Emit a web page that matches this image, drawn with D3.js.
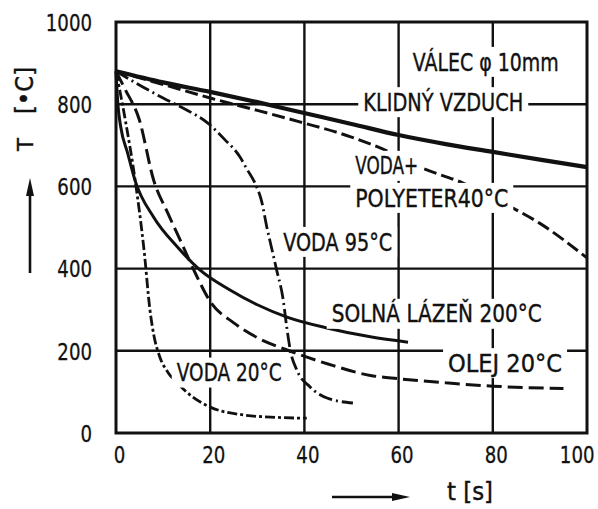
<!DOCTYPE html>
<html>
<head>
<meta charset="utf-8">
<script src="https://cdn.jsdelivr.net/npm/d3@7"></script>
<style>
  html, body { margin: 0; padding: 0; background: #fff; }
  svg { display: block; }
  text { font-family: "DejaVu Sans", "Liberation Sans", sans-serif; fill: #111; }
</style>
</head>
<body>
<svg id="chart" width="598" height="509"></svg>
<script>
// ---- data ----
const xTicks = [0, 20, 40, 60, 80, 100];
const yTicks = [0, 200, 400, 600, 800, 1000];

const airT   = [0, 10, 20, 30, 39, 50, 60, 70, 80, 90, 100];
const airV   = [880, 853, 830, 805, 781, 752, 725, 703, 684, 665, 647];

const polyT  = [0, 10, 20, 30, 39, 50, 58, 64.5, 73.7, 83, 90, 100];
const polyV  = [880, 848, 815, 785, 757, 720, 684, 647, 608, 555, 510, 426];

const w95T   = [0, 5.7, 10, 15, 19.5, 23, 26.3, 27.8, 29.5, 31, 32, 33, 34.1, 35.5, 36.2, 37, 38.4, 41.2, 44.8, 50.3];
const w95V   = [880, 842, 815, 786, 754, 715, 672, 642, 608, 560, 502, 452, 397, 324, 262, 202, 153, 112, 85, 73];

const w20T   = [0, 2, 4, 6, 7.2, 8, 9.3, 11, 13, 16, 20, 27, 34, 40.5];
const w20V   = [880, 760, 620, 440, 300, 240, 185, 148, 122, 90, 63, 44, 38, 36];

const saltT  = [0, 0.4, 1, 2.5, 4, 8, 13, 17.8, 24.2, 30, 36.3, 45, 54, 62];
const saltV  = [880, 800, 745, 680, 616, 525, 453, 397, 348, 312, 282, 255, 234, 221];

const oilT   = [0, 2, 4.9, 8, 11, 14, 17, 20, 25, 30, 36.3, 45, 54, 60, 70, 80, 95];
const oilV   = [880, 835, 764, 615, 535, 460, 385, 320, 268, 232, 202, 168, 140, 132, 122, 114, 108];

const labelTexts = ["VÁLEC φ 10mm", "KLIDNÝ VZDUCH", "VODA+", "POLYETER40°C", "VODA 95°C", "SOLNÁ LÁZEŇ 200°C", "OLEJ 20°C", "VODA 20°C"];
const labelT     = [63.0, 52.5, 50.8, 50.8, 35.5, 45.8, 70.5, 12.9];
const labelV     = [903, 805, 650, 572, 465, 290, 170, 147];

// ---- chart ----
const svg = d3.select("#chart");
const x = d3.scaleLinear().domain([0, 100]).range([116, 587]);
const y = d3.scaleLinear().domain([0, 1000]).range([433, 22]);
const ink = "#111";
const fit = (sel, w) => sel.attr("textLength", w).attr("lengthAdjust", "spacingAndGlyphs");

// grid
const grid = svg.append("g");
grid.selectAll("line.v").data(xTicks.slice(1, -1)).join("line")
  .attr("x1", d => x(d)).attr("x2", d => x(d))
  .attr("y1", y(0)).attr("y2", y(1000))
  .attr("stroke", ink).attr("stroke-width", 2.4);
grid.selectAll("line.h").data(yTicks.slice(1, -1)).join("line")
  .attr("y1", d => y(d)).attr("y2", d => y(d))
  .attr("x1", x(0)).attr("x2", x(100))
  .attr("stroke", ink).attr("stroke-width", 2.4);

// axes (labels only), condensed via horizontal scale
const fs = 23;
const sx = 0.79;
const yAxis = svg.append("g").attr("transform", `translate(${x(0)},0)`)
  .call(d3.axisLeft(y).tickValues(yTicks).tickFormat(d3.format("d")).tickSize(0));
yAxis.select(".domain").remove();
yAxis.selectAll("text").attr("font-size", fs).attr("dy", "0.36em")
  .style("font-family", "'DejaVu Sans', sans-serif")
  .attr("stroke", ink).attr("stroke-width", 0.3)
  .attr("x", -24 / sx)
  .attr("transform", `scale(${sx},1)`);

const xAxis = svg.append("g").attr("transform", `translate(3,${y(0)})`)
  .call(d3.axisBottom(x).tickValues(xTicks).tickFormat(d3.format("d")).tickSize(0).tickPadding(14));
xAxis.select(".domain").remove();
xAxis.selectAll("text").attr("font-size", fs)
  .style("font-family", "'DejaVu Sans', sans-serif")
  .attr("stroke", ink).attr("stroke-width", 0.3)
  .attr("transform", `scale(${sx},1)`)
  .each(function(d) {
    if (d === 100) d3.select(this).attr("text-anchor", "end").attr("x", (594 - 3 - x(100)) / sx);
  });

// curves
const line = d3.line().x(d => x(d[0])).y(d => y(d[1])).curve(d3.curveMonotoneX);
const zip = (a, b) => a.map((t, i) => [t, b[i]]);

const curves = [
  { pts: zip(airT, airV),   w: 4.2, dash: null },
  { pts: zip(polyT, polyV), w: 3.0, dash: "13,5" },
  { pts: zip(w95T, w95V),   w: 2.8, dash: "14,4,2,4" },
  { pts: zip(w20T, w20V),   w: 2.8, dash: "10,3,3,3" },
  { pts: zip(saltT, saltV), w: 3.0, dash: null },
  { pts: zip(oilT, oilV),   w: 3.0, dash: "15,6" }
];
svg.append("g").selectAll("path").data(curves).join("path")
  .attr("d", d => line(d.pts))
  .attr("fill", "none").attr("stroke", ink)
  .attr("stroke-width", d => d.w)
  .attr("stroke-dasharray", d => d.dash)
  .attr("stroke-linecap", "butt");

// frame
svg.append("rect")
  .attr("x", x(0)).attr("y", y(1000))
  .attr("width", x(100) - x(0)).attr("height", y(0) - y(1000))
  .attr("fill", "none").attr("stroke", ink).attr("stroke-width", 3);

// in-plot labels with white background
const labelW = [146, 160, 63, 153, 109, 210, 114, 105];
const lg = svg.append("g");
labelTexts.forEach((txt, i) => {
  const cx = x(labelT[i]), cy = y(labelV[i]);
  lg.append("rect")
    .attr("x", cx - 5).attr("y", cy - 15)
    .attr("width", labelW[i] + 10).attr("height", 30)
    .attr("fill", "#fff");
});
labelTexts.forEach((txt, i) => {
  const tx = lg.append("text")
    .attr("x", x(labelT[i])).attr("y", y(labelV[i]))
    .attr("font-size", 24).attr("dy", "0.36em")
    .attr("stroke", ink).attr("stroke-width", 0.4)
    .text(txt);
  fit(tx, labelW[i]);
});

// y axis title (rotated) with arrow
const yT = svg.append("text").attr("transform", "translate(33,151) rotate(-90)")
  .attr("font-size", 22).attr("stroke", ink).attr("stroke-width", 0.4).text("T");
fit(yT, 13);
const yU = svg.append("text").attr("transform", "translate(33,114) rotate(-90)")
  .attr("font-size", 24).attr("stroke", ink).attr("stroke-width", 0.4).text("[•C]");
fit(yU, 47);
svg.append("line").attr("x1", 30).attr("x2", 30).attr("y1", 273).attr("y2", 192)
  .attr("stroke", ink).attr("stroke-width", 2.6);
svg.append("path").attr("d", "M30,178 L26,196 L34,196 Z").attr("fill", ink);

// x axis title with arrow
const xT = svg.append("text").attr("x", 447).attr("y", 500).attr("font-size", 24)
  .attr("stroke", ink).attr("stroke-width", 0.4).text("t [s]");
fit(xT, 46);
svg.append("line").attr("x1", 332).attr("x2", 395).attr("y1", 497).attr("y2", 497)
  .attr("stroke", ink).attr("stroke-width", 2.6);
svg.append("path").attr("d", "M410,497 L392,493 L392,501 Z").attr("fill", ink);
</script>
</body>
</html>
